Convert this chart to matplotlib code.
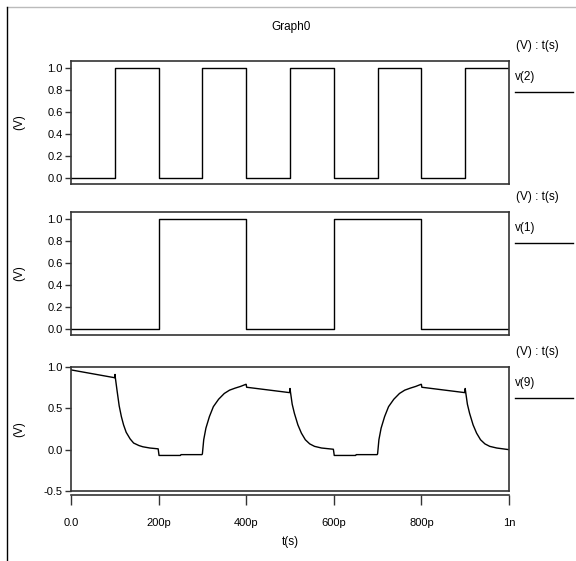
import numpy as np
import matplotlib
matplotlib.use("Agg")
import matplotlib.pyplot as plt
from matplotlib.lines import Line2D

plt.rcParams.update({
    'font.family': ['Liberation Sans Narrow', 'Liberation Sans', 'DejaVu Sans'],
    'font.size': 8,
    'axes.linewidth': 1.2,
    'axes.edgecolor': '#333333',
    'xtick.color': '#333333',
    'ytick.color': '#333333',
    'xtick.labelcolor': 'black',
    'ytick.labelcolor': 'black',
})

# time axis in ps
xticks = [0, 200, 400, 600, 800, 1000]
xtick_labels = ["0.0", "200p", "400p", "600p", "800p", "1n"]

# v(2): clock, edges every 100p
v2_t = [0, 100, 100, 200, 200, 300, 300, 400, 400, 500, 500, 600, 600, 700, 700, 800, 800, 900, 900, 1000]
v2_v = [0, 0, 1, 1, 0, 0, 1, 1, 0, 0, 1, 1, 0, 0, 1, 1, 0, 0, 1, 1]

# v(1): edges every 200p
v1_t = [0, 200, 200, 400, 400, 600, 600, 800, 800, 1000]
v1_v = [0, 0, 1, 1, 0, 0, 1, 1, 0, 0]

# v(9): output node
v9_t = [0, 100, 100.5, 101, 105, 110, 115, 120, 126, 135, 143, 155, 164, 180, 199,
        200, 201, 250, 251, 299, 300, 303, 308, 316, 325, 337, 350, 362, 375, 387, 399,
        400, 401, 499, 500, 501, 505, 510, 518, 526, 535, 545, 556, 572, 599,
        600, 601, 650, 651, 699, 700, 703, 708, 716, 725, 737, 750, 762, 775, 787, 799,
        800, 801, 899, 900, 901, 905, 910, 918, 926, 935, 945, 956, 972, 1000]
v9_v = [0.965, 0.87, 0.91, 0.88, 0.72, 0.53, 0.40, 0.30, 0.21, 0.13, 0.08, 0.05, 0.035, 0.02, 0.01,
        -0.03, -0.07, -0.07, -0.06, -0.06, -0.05, 0.12, 0.26, 0.40, 0.52, 0.61, 0.68, 0.72, 0.745, 0.765, 0.79,
        0.79, 0.755, 0.69, 0.74, 0.70, 0.55, 0.44, 0.30, 0.20, 0.12, 0.07, 0.04, 0.02, 0.005,
        -0.03, -0.07, -0.07, -0.06, -0.06, -0.05, 0.12, 0.26, 0.40, 0.52, 0.61, 0.68, 0.72, 0.745, 0.765, 0.79,
        0.79, 0.755, 0.69, 0.74, 0.70, 0.55, 0.44, 0.30, 0.20, 0.12, 0.07, 0.04, 0.02, 0.0]

W, H = 576, 561
fig = plt.figure(figsize=(W / 100, H / 100), dpi=100)

left, right = 71, 509


def panel(top, bottom):
    return fig.add_axes([left / W, 1 - bottom / H, (right - left) / W, (bottom - top) / H])


ax1 = panel(61, 184)
ax2 = panel(212, 335)
ax3 = panel(367, 491)

ax1.plot(v2_t, v2_v, color='black', lw=1.0)
ax2.plot(v1_t, v1_v, color='black', lw=1.0)
ax3.plot(v9_t, v9_v, color='black', lw=1.0)

for ax in (ax1, ax2):
    ax.set_ylim(-0.05, 1.06)
    ax.set_yticks([0.0, 0.2, 0.4, 0.6, 0.8, 1.0])
    ax.set_yticklabels(["0.0", "0.2", "0.4", "0.6", "0.8", "1.0"])
ax3.set_ylim(-0.5, 1.0)
ax3.set_yticks([-0.5, 0.0, 0.5, 1.0])
ax3.set_yticklabels(["-0.5", "0.0", "0.5", "1.0"])

for ax in (ax1, ax2, ax3):
    ax.set_xlim(0, 1000)
    ax.set_xticks([])
    ax.tick_params(axis='y', direction='out', length=4, width=1.0, pad=2)
    ax.set_ylabel("(V)", fontsize=8.5)
    ax.yaxis.set_label_coords(-0.105, 0.5)

# separate time axis below the last panel
sec = ax3.secondary_xaxis(-0.035)
sec.set_xticks(xticks)
sec.set_xticklabels(xtick_labels)
sec.tick_params(axis='x', direction='out', length=7, width=1.0, pad=9)
sec.spines['bottom'].set_linewidth(1.2)
sec.set_xlabel("t(s)", fontsize=8.5, labelpad=6)

# title and right-hand trace labels
fig.text(291 / W, 1 - 27 / H, "Graph0", ha='center', va='center', fontsize=8.5)
for top, name in [(61, "v(2)"), (212, "v(1)"), (367, "v(9)")]:
    fig.text(537 / W, 1 - (top - 15) / H, "(V) : t(s)", ha='center', va='center', fontsize=8.5)
    fig.text(515 / W, 1 - (top + 16) / H, name, ha='left', va='center', fontsize=8.5)
    fig.add_artist(Line2D([515 / W, 573 / W], [1 - (top + 31) / H] * 2, color='black', lw=1.0))

# page frame lines
fig.add_artist(Line2D([7 / W, 1], [1 - 7 / H] * 2, color='#bbbbbb', lw=1.0))
fig.add_artist(Line2D([7 / W, 7 / W], [1 - 7 / H, 0], color='black', lw=1.0))

fig.savefig("out.png", dpi=100)
